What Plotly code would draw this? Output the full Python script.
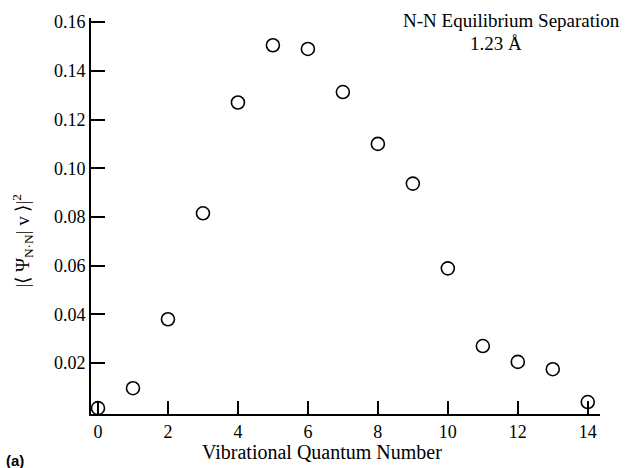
import plotly.graph_objects as go

v_numbers = list(range(15))
overlap_sq = [0.0015, 0.0097, 0.038, 0.0815, 0.127, 0.1505, 0.149, 0.1313,
              0.110, 0.0937, 0.0589, 0.027, 0.0205, 0.0175, 0.004]
x_ticks = [0, 2, 4, 6, 8, 10, 12, 14]
y_ticks = [0.02, 0.04, 0.06, 0.08, 0.10, 0.12, 0.14, 0.16]
y_tick_labels = ["0.02", "0.04", "0.06", "0.08", "0.10", "0.12", "0.14", "0.16"]

SERIF = "Liberation Serif, Times New Roman, serif"

fig = go.Figure()
fig.add_trace(go.Scatter(
    x=v_numbers, y=overlap_sq, mode="markers",
    marker=dict(symbol="circle-open", size=13, color="black",
                line=dict(width=1.6, color="black")),
    cliponaxis=False, showlegend=False,
))

fig.update_layout(
    width=627, height=468,
    margin=dict(l=91, r=27, t=14, b=54),
    paper_bgcolor="white", plot_bgcolor="white",
    font=dict(family=SERIF, size=16, color="black"),
    xaxis=dict(
        range=[-0.2, 14.35], tickvals=x_ticks, ticks="inside", ticklen=13,
        tickwidth=1.5, tickcolor="black", showline=True, linecolor="black",
        linewidth=2, showgrid=False, zeroline=False,
        tickfont=dict(family=SERIF, size=18),
    ),
    yaxis=dict(
        range=[-0.0009, 0.1617], tickvals=y_ticks, ticktext=y_tick_labels,
        ticks="inside", ticklen=14, tickwidth=1.5, tickcolor="black",
        showline=True, linecolor="black", linewidth=2, showgrid=False,
        zeroline=False, tickfont=dict(family=SERIF, size=18),
    ),
)

# axis titles
fig.add_annotation(text="Vibrational Quantum Number", xref="x", yref="paper",
                   x=6.4, y=-0.095, xanchor="center", yanchor="middle",
                   showarrow=False, font=dict(family=SERIF, size=20))
fig.add_annotation(text="|⟨ Ψ<sub>N·N</sub>| v ⟩|<sup>2</sup>", xref="paper", yref="y",
                   x=-0.135, y=0.07, xanchor="center", yanchor="middle",
                   textangle=-90, showarrow=False, font=dict(family=SERIF, size=19))

fig.add_annotation(text="N-N Equilibrium Separation", xref="paper", yref="paper",
                   x=1.043, y=1.025, xanchor="right", yanchor="top", showarrow=False,
                   font=dict(family=SERIF, size=19))
fig.add_annotation(text="1.23 Å", xref="paper", yref="paper",
                   x=0.795, y=0.968, xanchor="center", yanchor="top", showarrow=False,
                   font=dict(family=SERIF, size=19))
fig.add_annotation(text="<b>(a)</b>", xref="paper", yref="paper",
                   x=-0.17, y=-0.09, xanchor="left", yanchor="top", showarrow=False,
                   font=dict(family="Liberation Sans, Arial, sans-serif", size=15))

fig.write_html("out.html")
